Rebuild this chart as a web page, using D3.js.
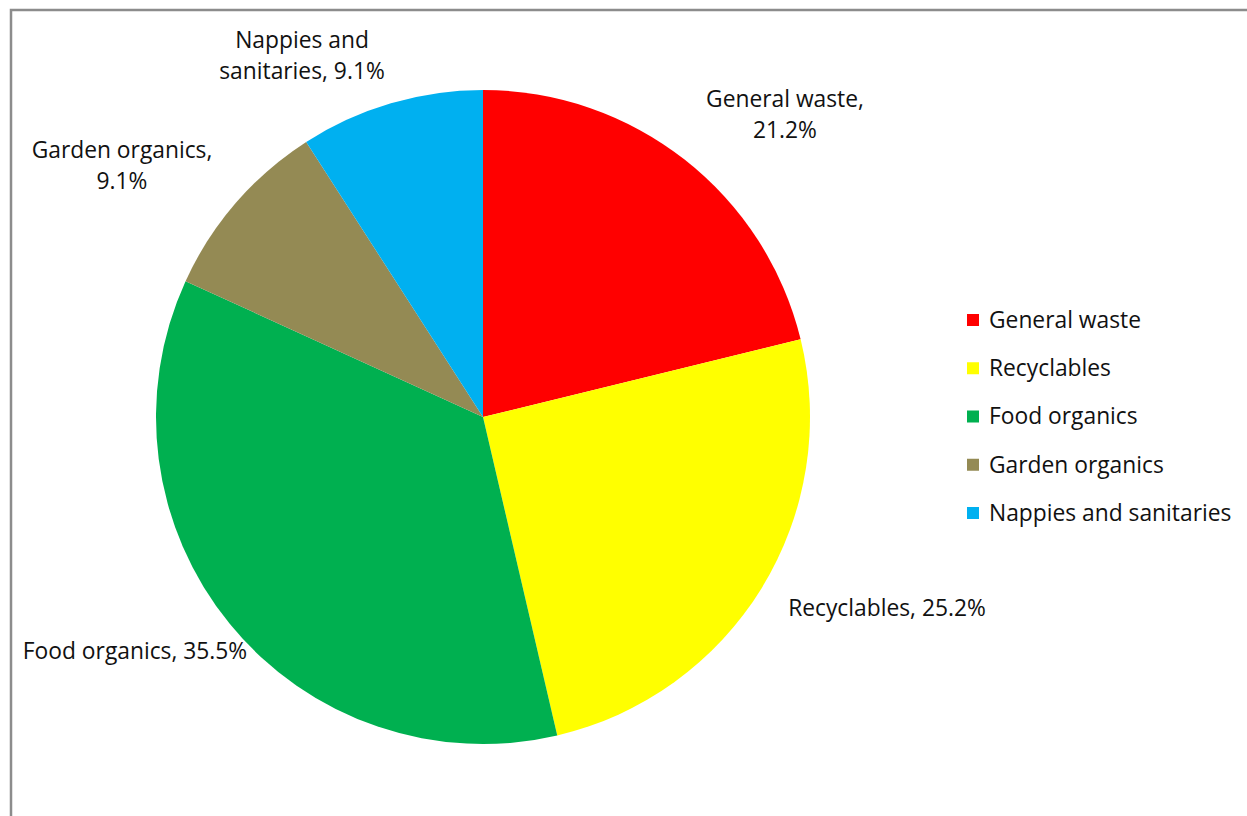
<!DOCTYPE html>
<html><head><meta charset="utf-8">
<script src="https://cdn.jsdelivr.net/npm/d3@7"></script>
<style>html,body{margin:0;padding:0;background:#fff;} svg{display:block;}</style>
</head><body>
<svg id="c" width="1247" height="816"></svg>
<script>
const categories = ["General waste","Recyclables","Food organics","Garden organics","Nappies and sanitaries"];
const values = [21.2, 25.2, 35.5, 9.1, 9.1];
const colors = ["#FF0000","#FFFF00","#00B050","#948A54","#00B0F0"];
const labelLines = [["General waste,","21.2%"],["Recyclables, 25.2%"],["Food organics, 35.5%"],["Garden organics,","9.1%"],["Nappies and","sanitaries, 9.1%"]];

const svg = d3.select("#c");
const font = "'Open Sans', sans-serif";
const fs = 22.8;
// frame
svg.append("path").attr("d","M11,816 V10 H1247").attr("fill","none").attr("stroke","#8c8c8c").attr("stroke-width",2.5);

const cx = 483, cy = 417, R = 327;
const pie = d3.pie().value(d=>d).sort(null);
const arcs = pie(values);
const arc = d3.arc().innerRadius(0).outerRadius(R);
const g = svg.append("g").attr("transform",`translate(${cx},${cy})`);
g.selectAll("path").data(arcs).join("path").attr("d",arc).attr("fill",(d,i)=>colors[i]);

// label placement (offsets from pie centre, in px)
const labelPos = [[302,-302],[404,191],[-348,234],[-361,-251],[-181,-361]];
const lh = 31;
labelLines.forEach((lines,i)=>{
  const t = g.append("text").attr("font-family",font).attr("font-size",fs).attr("fill","#111")
    .attr("text-anchor","middle");
  lines.forEach((s,k)=>{
    t.append("tspan").attr("x",labelPos[i][0]).attr("y",labelPos[i][1] + (k-(lines.length-1)/2)*lh).attr("dy","0.35em").text(s);
  });
});

// legend
const ly = d3.scalePoint().domain(categories).range([320,513]);
const lg = svg.append("g");
categories.forEach((c,i)=>{
  lg.append("rect").attr("x",967).attr("y",ly(c)-6).attr("width",12).attr("height",12).attr("fill",colors[i]);
  lg.append("text").attr("x",989).attr("y",ly(c)).attr("dy","0.35em").attr("font-family",font).attr("font-size",fs).attr("fill","#111").text(c);
});
</script>
</body></html>
